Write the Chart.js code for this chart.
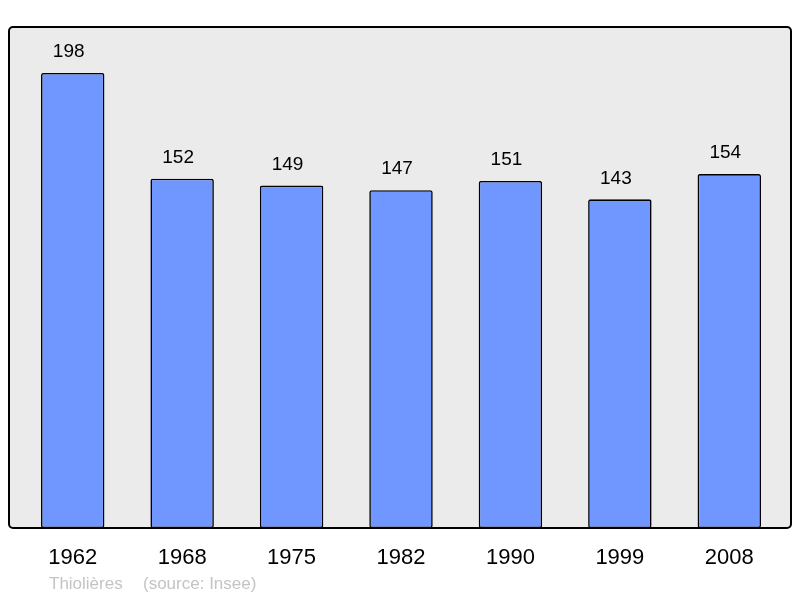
<!DOCTYPE html>
<html>
<head>
<meta charset="utf-8">
<script src="https://cdn.jsdelivr.net/npm/chart.js@4.4.0/dist/chart.umd.min.js"></script>
<style>
  html, body { margin: 0; padding: 0; background: #fff; }
  #wrap { width: 800px; height: 598px; position: relative; }
</style>
</head>
<body>
<div id="wrap"><canvas id="pop"></canvas></div>
<script>
// data
const years = ["1962", "1968", "1975", "1982", "1990", "1999", "2008"];
const population = [198, 152, 149, 147, 151, 143, 154];
const yMax = 218;
const place = "Thiolières";
const source = "(source: Insee)";

// grey frame behind the bars
const frame = {
    id: "frame",
    beforeDatasetsDraw(chart) {
        const { ctx, chartArea } = chart;
        const x0 = chartArea.left - 9, x1 = chartArea.right + 7;
        const y0 = chartArea.top, y1 = chartArea.bottom;
        ctx.save();
        ctx.beginPath();
        ctx.roundRect(x0, y0, x1 - x0, y1 - y0, 4);
        ctx.fillStyle = "#ebebeb";
        ctx.fill();
        ctx.restore();
    },
    afterDatasetsDraw(chart) {
        const { ctx, chartArea } = chart;
        const x0 = chartArea.left - 9, x1 = chartArea.right + 7;
        const y0 = chartArea.top, y1 = chartArea.bottom;
        ctx.save();
        ctx.beginPath();
        ctx.roundRect(x0, y0, x1 - x0, y1 - y0, 4);
        ctx.lineWidth = 2;
        ctx.strokeStyle = "#000";
        ctx.stroke();

        // values over bars
        ctx.fillStyle = "#000";
        ctx.font = "19px 'Liberation Sans', Arial, sans-serif";
        ctx.textAlign = "center";
        ctx.textBaseline = "middle";
        chart.getDatasetMeta(0).data.forEach((bar, i) => {
            ctx.fillText(String(population[i]), bar.x - 4, bar.y - 21);
        });

        // footer
        ctx.fillStyle = "#c4c4c4";
        ctx.font = "17px 'Liberation Sans', Arial, sans-serif";
        ctx.textAlign = "left";
        ctx.fillText(place, 49, 584);
        ctx.fillText(source, 143, 584);
        ctx.restore();
    }
};

new Chart(document.getElementById("pop"), {
    type: "bar",
    data: {
        labels: years,
        datasets: [{
            data: population,
            backgroundColor: "#7097ff",
            borderColor: "#000",
            borderWidth: 1.6,
            borderSkipped: false,
            borderRadius: 2,
            categoryPercentage: 1,
            barPercentage: 0.58
        }]
    },
    options: {
        responsive: true,
        maintainAspectRatio: false,
        animation: false,
        layout: { padding: { left: 18, right: 16, top: 27, bottom: 0 } },
        plugins: { legend: { display: false }, tooltip: { enabled: false } },
        scales: {
            x: {
                grid: { display: false, drawTicks: false },
                border: { display: false },
                ticks: {
                    color: "#000",
                    padding: 17,
                    font: { family: "'Liberation Sans', Arial, sans-serif", size: 22 }
                },
                afterFit(scale) { scale.height = 70; }
            },
            y: {
                display: false,
                min: 0,
                max: yMax
            }
        }
    },
    plugins: [frame]
});
</script>
</body>
</html>
